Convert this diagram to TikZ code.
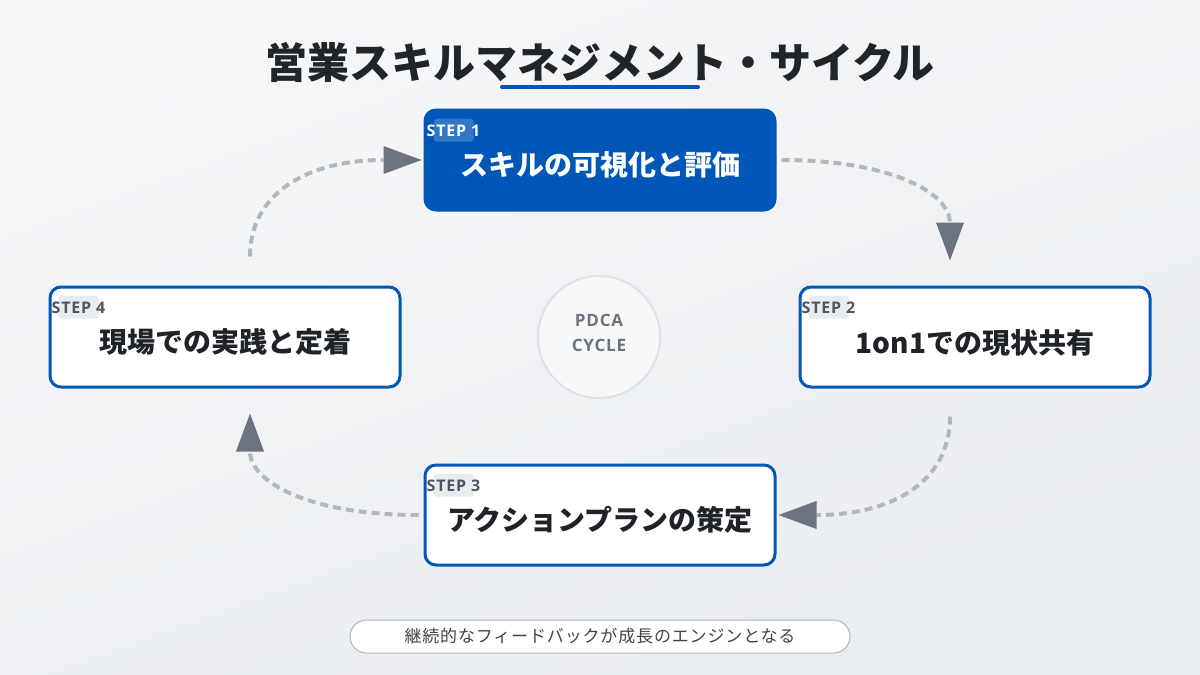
\documentclass[tikz,border=0pt]{standalone}
\usepackage{fontspec}
\setmainfont{Noto Sans CJK JP}
\newfontfamily\jpsp{Noto Sans CJK JP}[LetterSpace=5]
\newfontfamily\latsp{Open Sans}[LetterSpace=5]
\usetikzlibrary{arrows.meta,calc}
\definecolor{bgtop}{HTML}{F6F7F9}
\definecolor{bgbot}{HTML}{E9ECEF}
\definecolor{mainblue}{HTML}{0057B7}
\definecolor{titlec}{HTML}{212529}
\definecolor{textc}{HTML}{1F2328}
\definecolor{stepc}{HTML}{4B5563}
\definecolor{tagc}{HTML}{E8EBEF}
\definecolor{dashc}{HTML}{B0B7BF}
\definecolor{tipc}{HTML}{6B7280}
\definecolor{circf}{HTML}{F7F8FA}
\definecolor{circb}{HTML}{DEE2E6}
\definecolor{footb}{HTML}{ADB5BD}
\definecolor{footc}{HTML}{3F444A}
\tikzset{
  stepbox/.style={rectangle, rounded corners=11pt, minimum width=350pt, minimum height=100pt, inner sep=0pt, line width=3pt, draw=mainblue, fill=white},
  activebox/.style={stepbox, fill=mainblue},
  maintext/.style={font=\bfseries\fontsize{28}{32}\selectfont, text=textc, inner sep=0pt},
  steptag/.style={rectangle, rounded corners=3pt, minimum width=40pt, minimum height=23pt, inner sep=0pt, anchor=north west, fill=tagc},
  steplabel/.style={font=\latsp\bfseries\fontsize{16}{18}\selectfont, text=stepc, inner sep=0pt, anchor=base west},
  flow/.style={draw=dashc, line width=4pt, dash pattern=on 8pt off 5pt, -{Triangle[length=38pt,width=28pt,color=tipc,line width=0pt]}}
}
\begin{document}
\begin{tikzpicture}[x=1pt,y=-1pt]
\shade[top color=bgtop, bottom color=bgbot, shading angle=20] (0,0) rectangle (1200,675);
\useasboundingbox (0,0) rectangle (1200,675);

% title
\node[font=\bfseries\fontsize{42}{50}\selectfont, text=titlec, inner sep=0pt] (title) at (600,62) {営業スキルマネジメント・サイクル};
\coordinate (ulA) at (502,87);
\coordinate (ulB) at (698,87);
\draw[mainblue, line width=4pt, line cap=round] (ulA) -- (ulB);

% step boxes
\node[activebox] (s1) at (600,160) {};
\node[stepbox] (s2) at (975,337) {};
\node[stepbox] (s3) at (600,515) {};
\node[stepbox] (s4) at (225,337) {};

% step 1 content
\node[steptag, fill=white, fill opacity=0.2] (tag1) at ($(s1.north west)+(10,10)$) {};
\node[steplabel, text=white] (lab1) at ($(s1.north west)+(3,27.5)$) {STEP 1};
\node[maintext, text=white] (t1) at ($(s1.center)+(0,5)$) {スキルの可視化と評価};

% step 2 content
\node[steptag] (tag2) at ($(s2.north west)+(10,10)$) {};
\node[steplabel] (lab2) at ($(s2.north west)+(3,27.5)$) {STEP 2};
\node[maintext] (t2) at ($(s2.center)+(0,6)$) {1on1での現状共有};

% step 3 content
\node[steptag] (tag3) at ($(s3.north west)+(10,10)$) {};
\node[steplabel] (lab3) at ($(s3.north west)+(3,27.5)$) {STEP 3};
\node[maintext] (t3) at ($(s3.center)+(0,5)$) {アクションプランの策定};

% step 4 content
\node[steptag] (tag4) at ($(s4.north west)+(10,10)$) {};
\node[steplabel] (lab4) at ($(s4.north west)+(3,27.5)$) {STEP 4};
\node[maintext] (t4) at ($(s4.center)+(0,5)$) {現場での実践と定着};

% center circle
\node[circle, minimum size=122pt, inner sep=0pt, draw=circb, line width=2pt, fill=circf] (cyc) at (599,337) {};
\node[font=\latsp\bfseries\fontsize{17}{25}\selectfont, text=tipc, align=center, inner sep=0pt] (pdca) at ($(cyc.center)+(0,-4)$) {PDCA\\CYCLE};

% flow arrows
\draw[flow] ($(s1.east)+(5,0)$) .. controls (893,160) and (950,194) .. ($(s2.north)+(-25,-25)$);
\draw[flow] ($(s2.south)+(-25,28)$) .. controls (950,482) and (892,515) .. ($(s3.east)+(2,0)$);
\draw[flow] ($(s3.west)+(-5,0)$) .. controls (307,515) and (250,481) .. ($(s4.south)+(25,25)$);
\draw[flow] ($(s4.north)+(25,-29)$) .. controls (250,193) and (308,160) .. ($(s1.west)+(-2,0)$);

% footer
\node[rectangle, rounded corners=16.5pt, minimum width=500pt, minimum height=33pt, inner sep=0pt, draw=footb, line width=1pt, fill=white, font=\jpsp\fontsize{17}{20}\selectfont, text=footc] (foot) at (600,636.5) {継続的なフィードバックが成長のエンジンとなる};
\end{tikzpicture}
\end{document}
